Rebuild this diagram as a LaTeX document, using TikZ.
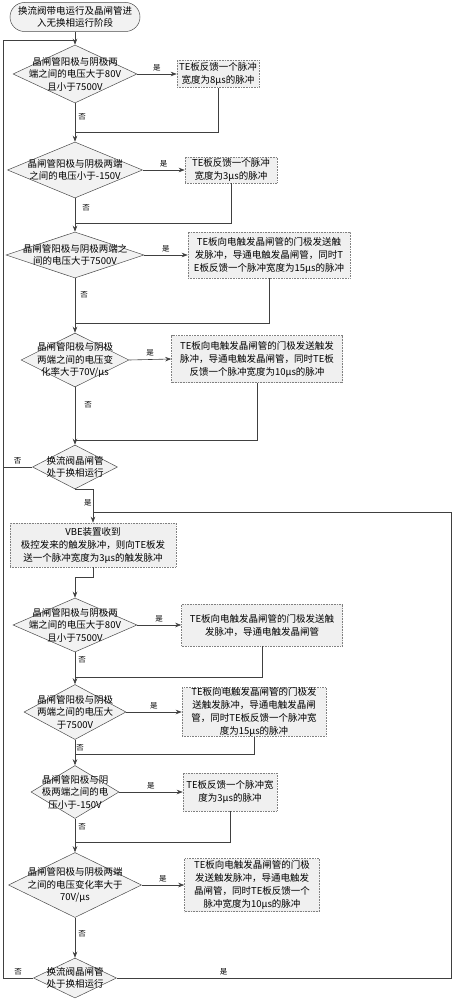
\documentclass[tikz,border=0pt]{standalone}
\usepackage{fontspec}
\newfontfamily\cjk{Noto Sans CJK SC}
\usetikzlibrary{shapes.geometric,shapes.misc,arrows.meta}
\begin{document}
\begin{tikzpicture}[x=1pt,y=-1pt]
\tikzset{
  conn/.style={draw=black!75, line width=0.6pt},
  arr/.style={conn, -{Stealth[length=6pt,width=4.5pt]}},
  dia/.style={diamond, draw=black!70, line width=0.5pt, fill=gray!10, inner sep=0pt},
  dtext/.style={align=center, inner sep=0pt, font=\cjk\fontsize{9.5}{12.5}\selectfont},
  pbox/.style={rectangle, draw=gray, densely dotted, line width=0.6pt, fill=gray!12, align=center, inner sep=0pt, font=\cjk\fontsize{9.5}{13}\selectfont},
  term/.style={rounded rectangle, draw=black!70, line width=0.5pt, fill=gray!10, align=center, inner sep=0pt, font=\cjk\fontsize{9.5}{12.5}\selectfont},
  lab/.style={font=\cjk\fontsize{7.5}{8}\selectfont, inner sep=1pt}
}
\useasboundingbox (0,0) rectangle (453,1000);
\fill[white] (0,0) rectangle (453,1000);

% nodes
\node[term, minimum width=130pt, minimum height=29pt] (s) at (75,17) {换流阀带电运行及晶闸管进\\入无换相运行阶段};

\node[dia, minimum width=124pt, minimum height=58pt] (d1) at (75,74) {};
\node[dtext] (d1t) at (d1.center) {晶闸管阳极与阴极两\\端之间的电压大于80V\\且小于7500V};
\node[pbox, minimum width=82pt, minimum height=27pt] (b1) at (218,74) {TE板反馈一个脉冲\\宽度为8μs的脉冲};

\node[dia, minimum width=135pt, minimum height=56pt] (d2) at (75,170) {};
\node[dtext] (d2t) at (d2.center) {晶闸管阳极与阴极两端\\之间的电压小于-150V};
\node[pbox, minimum width=92pt, minimum height=26pt] (b2) at (231,170) {TE板反馈一个脉冲\\宽度为3μs的脉冲};

\node[dia, minimum width=138pt, minimum height=46pt] (d3) at (75,255) {};
\node[dtext] (d3t) at (d3.center) {晶闸管阳极与阴极两端之\\间的电压大于7500V};
\node[pbox, minimum width=162pt, minimum height=46pt] (b3) at (269,255) {TE板向电触发晶闸管的门极发送触\\发脉冲，导通电触发晶闸管，同时T\\E板反馈一个脉冲宽度为15μs的脉冲};

\node[dia, minimum width=108pt, minimum height=54pt] (d4) at (75,360) {};
\node[dtext] (d4t) at (d4.center) {晶闸管阳极与阴极\\两端之间的电压变\\化率大于70V/μs};
\node[pbox, minimum width=171pt, minimum height=47pt] (b4) at (257,359) {TE板向电触发晶闸管的门极发送触发\\脉冲，导通电触发晶闸管，同时TE板\\反馈一个脉冲宽度为10μs的脉冲};

\node[dia, minimum width=85pt, minimum height=44pt] (d5) at (75,467) {};
\node[dtext] (d5t) at (d5.center) {换流阀晶闸管\\处于换相运行};

\node[pbox, minimum width=166pt, minimum height=44pt] (b5) at (93,545) {VBE装置收到\\极控发来的触发脉冲，则向TE板发\\送一个脉冲宽度为3μs的触发脉冲};

\node[dia, minimum width=124pt, minimum height=54pt] (d6) at (75,625) {};
\node[dtext] (d6t) at (d6.center) {晶闸管阳极与阴极两\\端之间的电压大于80V\\且小于7500V};
\node[pbox, minimum width=161pt, minimum height=42pt] (b6) at (262,625) {TE板向电触发晶闸管的门极发送触\\发脉冲，导通电触发晶闸管};

\node[dia, minimum width=102pt, minimum height=55pt] (d7) at (75,712) {};
\node[dtext] (d7t) at (d7.center) {晶闸管阳极与阴极\\两端之间的电压大\\于7500V};
\node[pbox, minimum width=144pt, minimum height=46pt] (b7) at (254,712) {TE板向电触发晶闸管的门极发\\送触发脉冲，导通电触发晶闸\\管，同时TE板反馈一个脉冲宽\\度为15μs的脉冲};

\node[dia, minimum width=88pt, minimum height=53pt] (d8) at (75,792) {};
\node[dtext] (d8t) at (d8.center) {晶闸管阳极与阴\\极两端之间的电\\压小于-150V};
\node[pbox, minimum width=94pt, minimum height=38pt] (b8) at (230,792) {TE板反馈一个脉冲宽\\度为3μs的脉冲};

\node[dia, minimum width=133pt, minimum height=65pt] (d9) at (75,885) {};
\node[dtext] (d9t) at (d9.center) {晶闸管阳极与阴极两端\\之间的电压变化率大于\\70V/μs};
\node[pbox, minimum width=135pt, minimum height=53pt] (b9) at (252,885) {TE板向电触发晶闸管的门极\\发送触发脉冲，导通电触发\\晶闸管，同时TE板反馈一个\\脉冲宽度为10μs的脉冲};

\node[dia, minimum width=83pt, minimum height=40pt] (d10) at (75,978) {};
\node[dtext] (d10t) at (d10.center) {换流阀晶闸管\\处于换相运行};

% junction coordinates
\coordinate (L1) at (3,40);
\coordinate (T1) at (75,40);
\coordinate (L2) at (3,978);
\coordinate (R1) at (451,512);
\coordinate (R2) at (451,978);
\coordinate (J5) at (93,512);
\coordinate (j1) at (75,132);
\coordinate (j2) at (75,223);
\coordinate (j3) at (75,323);
\coordinate (j4) at (75,440);
\coordinate (j6) at (75,677);
\coordinate (j7) at (75,754);
\coordinate (j8) at (75,842);

% main flow
\draw[arr] (s.south) -- (d1.north);
\draw[arr] (d1.east) -- node[lab, above, yshift=2pt] {是} (b1.west);
\draw[arr] (d1.south) -- node[lab, right, pos=0.35, xshift=2pt] {否} (d2.north);
\draw[conn] (b1.south) |- (j1);

\draw[arr] (d2.east) -- node[lab, above, yshift=2pt] {是} (b2.west);
\draw[arr] (d2.south) -- node[lab, right, pos=0.3, xshift=6pt] {否} (d3.north);
\draw[conn] (b2.south) |- (j2);

\draw[arr] (d3.east) -- node[lab, above, yshift=2pt] {是} (b3.west);
\draw[arr] (d3.south) -- node[lab, right, pos=0.3, xshift=4pt] {否} (d4.north);
\draw[conn] (b3.south) |- (j3);

\draw[arr] (d4.east) -- node[lab, above, yshift=2pt] {是} (b4.west);
\draw[arr] (d4.south) -- node[lab, right, pos=0.3, xshift=8pt] {否} (d5.north);
\draw[conn] (b4.south) |- (j4);

\draw[conn] (d5.west) -- node[lab, above, yshift=2pt] {否} (d5.west -| L1);
\draw[arr] (d5.south) -| node[lab, left, pos=0.7] {是} (b5.north);
\draw[arr] (b5.south) -- ++(0,10) -| (d6.north);

\draw[arr] (d6.east) -- node[lab, above, yshift=2pt] {是} (b6.west);
\draw[arr] (d6.south) -- node[lab, right, pos=0.25, xshift=2pt] {否} (d7.north);
\draw[conn] (b6.south) |- (j6);

\draw[arr] (d7.east) -- node[lab, above, yshift=2pt] {是} (b7.west);
\draw[arr] (d7.south) -- node[lab, right, pos=0.3] {否} (d8.north);
\draw[conn] (b7.south) |- (j7);

\draw[arr] (d8.east) -- node[lab, above, yshift=2pt] {是} (b8.west);
\draw[arr] (d8.south) -- node[lab, right, pos=0.25, xshift=2pt] {否} (d9.north);
\draw[conn] (b8.south) |- (j8);

\draw[arr] (d9.east) -- node[lab, above, yshift=2pt] {是} (b9.west);
\draw[arr] (d9.south) -- node[lab, right, pos=0.4, xshift=2pt] {否} (d10.north);

% loops
\draw[conn] (d10.west) -- node[lab, above, yshift=2pt] {否} (L2) -- (L1) -- (T1);
\draw[conn] (d10.east) -- node[lab, above, pos=0.32, yshift=2pt] {是} (R2) -- (R1) -- (J5);
\end{tikzpicture}
\end{document}
